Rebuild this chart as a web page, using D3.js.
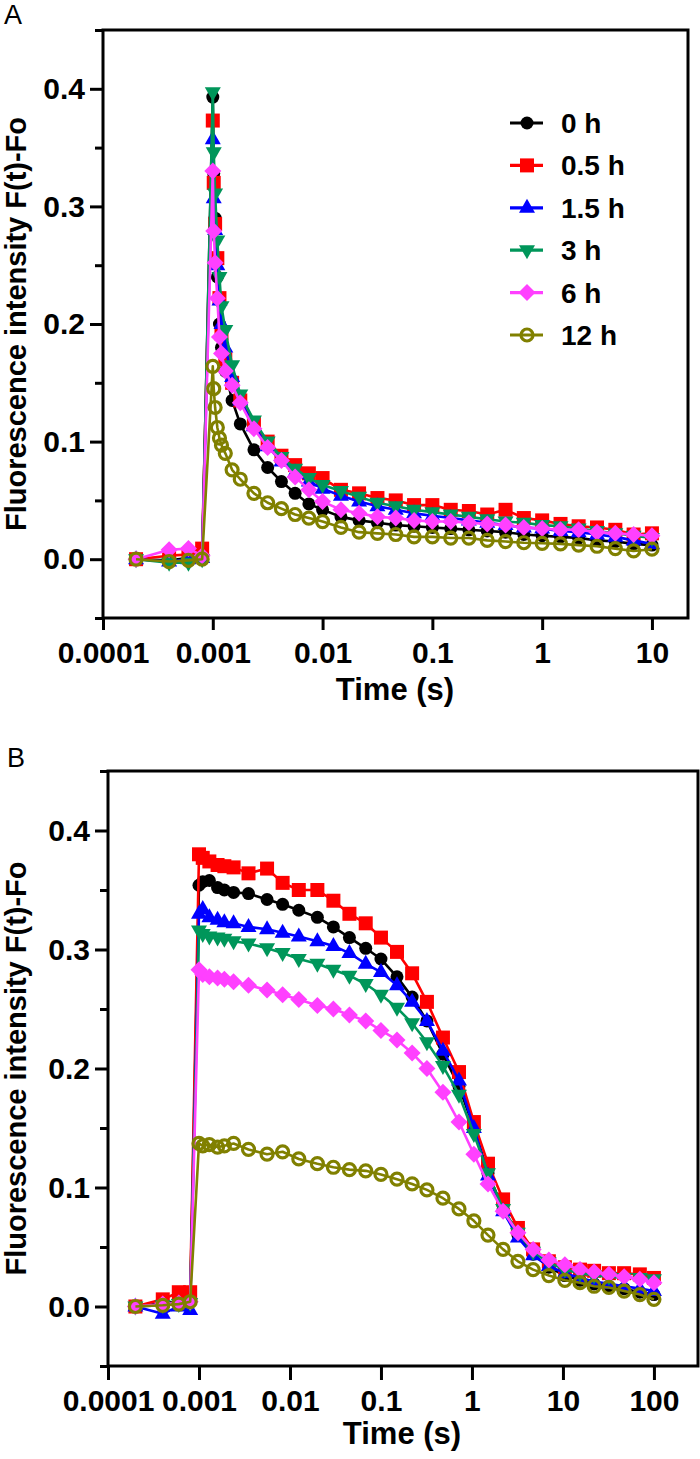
<!DOCTYPE html>
<html><head><meta charset="utf-8">
<script src="https://cdn.jsdelivr.net/npm/d3@7"></script>
<style>
body{margin:0;background:#fff}
svg{display:block}
text{font-family:"Liberation Sans",Arial,Helvetica,sans-serif}
</style>
</head><body>
<svg id="chart" width="700" height="1459"></svg>
<script>
// ---------- data ----------
const seriesNames  = ["0 h","0.5 h","1.5 h","3 h","6 h","12 h"];
const seriesColors = ["#000000","#ff0000","#0000ff","#00965a","#ff40ff","#808000"];
const seriesShapes = ["circle","square","triangleUp","triangleDown","diamond","openCircle"];

const xTickValuesA = [0.0001,0.001,0.01,0.1,1,10];
const xTickLabelsA = ["0.0001","0.001","0.01","0.1","1","10"];
const xTickValuesB = [0.0001,0.001,0.01,0.1,1,10,100];
const xTickLabelsB = ["0.0001","0.001","0.01","0.1","1","10","100"];
const yTickValues  = [0,0.1,0.2,0.3,0.4];
const yTickLabels  = ["0.0","0.1","0.2","0.3","0.4"];
const yMinorTicks  = [-0.05,0.05,0.15,0.25,0.35,0.45];

const timeA = [0.0002,0.0004,0.0006,0.0008,0.001,0.00102,0.00105,0.0011,0.00115,0.0012,0.0013,0.0015,
  0.00178,0.00237,0.00316,0.00422,0.00562,0.0075,0.01,0.0147,0.0215,0.0316,0.0464,0.0681,
  0.1,0.147,0.215,0.316,0.464,0.681,1,1.47,2.15,3.16,4.64,6.81,10];
const a0h  = [0,-0.001,0.001,0.002,0.393,0.328,0.29,0.24,0.20,0.18,0.16,0.135,
  0.115,0.093,0.078,0.066,0.056,0.047,0.042,0.036,0.033,0.031,0.029,0.028,
  0.027,0.026,0.025,0.024,0.023,0.021,0.020,0.019,0.018,0.016,0.015,0.013,0.012];
const a05h = [0,0.003,0.004,0.009,0.373,0.320,0.285,0.256,0.222,0.192,0.170,0.150,
  0.135,0.115,0.100,0.088,0.080,0.073,0.069,0.059,0.056,0.052,0.050,0.046,
  0.046,0.042,0.041,0.038,0.042,0.035,0.033,0.030,0.028,0.027,0.025,0.021,0.022];
const a15h = [0,-0.002,0,0.001,0.357,0.307,0.280,0.250,0.220,0.200,0.180,0.155,
  0.135,0.113,0.096,0.083,0.074,0.066,0.060,0.054,0.049,0.045,0.042,0.039,
  0.037,0.035,0.033,0.031,0.029,0.027,0.026,0.024,0.023,0.021,0.019,0.016,0.013];
const a3h  = [0,-0.003,-0.003,0,0.397,0.346,0.311,0.271,0.240,0.215,0.195,0.165,
  0.140,0.118,0.100,0.087,0.077,0.069,0.063,0.058,0.053,0.048,0.045,0.042,
  0.040,0.038,0.036,0.034,0.032,0.031,0.029,0.028,0.026,0.024,0.022,0.020,0.018];
const a6h  = [0,0.008,0.009,0.003,0.330,0.279,0.252,0.222,0.189,0.175,0.160,0.148,
  0.133,0.111,0.095,0.084,0.070,0.059,0.049,0.042,0.039,0.036,0.035,0.033,
  0.032,0.032,0.031,0.030,0.029,0.027,0.026,0.025,0.025,0.023,0.022,0.021,0.020];
const a12h = [0,-0.002,-0.001,0,0.164,0.145,0.129,0.112,0.103,0.097,0.090,0.076,
  0.068,0.056,0.048,0.043,0.038,0.035,0.032,0.027,0.023,0.022,0.021,0.019,
  0.019,0.018,0.018,0.016,0.015,0.014,0.0135,0.013,0.012,0.011,0.009,0.007,0.0085];

const timeB = [0.0002,0.0004,0.0006,0.0008,0.001,0.0011,0.0013,0.0016,0.0019,0.0024,
  0.0035,0.0056,0.0083,0.0125,0.02,0.03,0.045,0.068,0.1,0.15,0.22,0.32,0.48,0.72,
  1.05,1.5,2.2,3.2,4.7,7,10.5,15.4,22,32,47,70,100];
const b0h  = [0,0.003,0.004,0.005,0.354,0.357,0.358,0.352,0.350,0.348,
  0.347,0.342,0.338,0.333,0.327,0.319,0.310,0.301,0.292,0.277,0.260,0.240,0.212,0.185,
  0.150,0.112,0.082,0.060,0.044,0.033,0.026,0.022,0.019,0.017,0.015,0.012,0.010];
const b05h = [0,0.006,0.012,0.012,0.380,0.377,0.374,0.371,0.370,0.369,
  0.364,0.368,0.356,0.350,0.350,0.341,0.330,0.322,0.310,0.298,0.280,0.256,0.226,0.197,
  0.155,0.120,0.090,0.066,0.048,0.038,0.033,0.031,0.030,0.028,0.028,0.027,0.024];
const b15h = [0,-0.006,0.000,-0.003,0.330,0.334,0.327,0.325,0.323,0.322,
  0.319,0.317,0.314,0.311,0.307,0.303,0.297,0.288,0.281,0.270,0.256,0.240,0.215,0.190,
  0.150,0.110,0.080,0.058,0.043,0.034,0.028,0.024,0.021,0.019,0.017,0.015,0.013];
const b3h  = [0,0.001,0.002,0.003,0.316,0.313,0.311,0.310,0.309,0.307,
  0.305,0.301,0.297,0.292,0.288,0.283,0.278,0.271,0.262,0.251,0.238,0.222,0.202,0.178,
  0.145,0.112,0.082,0.062,0.046,0.037,0.031,0.028,0.026,0.025,0.024,0.024,0.023];
const b6h  = [0,0.002,0.003,0.004,0.283,0.279,0.277,0.276,0.275,0.273,
  0.270,0.266,0.262,0.258,0.253,0.250,0.245,0.240,0.232,0.224,0.213,0.200,0.180,0.155,
  0.128,0.103,0.080,0.062,0.048,0.039,0.035,0.031,0.029,0.027,0.025,0.023,0.020];
const b12h = [0,0.001,0.002,0.004,0.137,0.135,0.136,0.134,0.135,0.137,
  0.132,0.128,0.130,0.124,0.120,0.117,0.115,0.114,0.111,0.107,0.103,0.098,0.091,0.082,
  0.072,0.060,0.048,0.038,0.031,0.026,0.022,0.020,0.017,0.016,0.013,0.010,0.006];

// ---------- drawing ----------
const svg = d3.select("#chart");
const FONT_W = "bold";

function markerPath(shape){
  switch(shape){
    case "circle": return d3.symbol(d3.symbolCircle, Math.PI*6.5*6.5)();
    case "openCircle": return d3.symbol(d3.symbolCircle, Math.PI*6*6)();
    case "square": return "M-7,-7H7V7H-7Z";
    case "triangleUp": return "M0,-9L8,5L-8,5Z";
    case "triangleDown": return "M0,9L8,-5L-8,-5Z";
    case "diamond": return "M0,-8.5L8.5,0L0,8.5L-8.5,0Z";
  }
}
function styleMarker(sel, i){
  const open = seriesShapes[i] === "openCircle";
  sel.attr("d", markerPath(seriesShapes[i]))
     .attr("fill", open ? "none" : seriesColors[i])
     .attr("stroke", open ? seriesColors[i] : "none")
     .attr("stroke-width", open ? 3.2 : 0);
}

function drawPanel(cfg){
  const x = d3.scaleLog().domain(cfg.xDomain).range([cfg.left, cfg.right]);
  const y = d3.scaleLinear().domain([-0.05, 0.45]).range([cfg.bottom, cfg.top]);
  const g = svg.append("g");

  // series
  const line = d3.line().x(d => x(d[0])).y(d => y(d[1]));
  cfg.series.forEach((vals, i) => {
    const pts = cfg.time.map((t, k) => [t, vals[k]]);
    g.append("path").datum(pts).attr("d", line)
      .attr("fill","none").attr("stroke", seriesColors[i])
      .attr("stroke-width", 2.6).attr("stroke-linejoin","round");
    g.selectAll(null).data(pts).enter().append("path")
      .attr("transform", d => `translate(${x(d[0])},${y(d[1])})`)
      .call(styleMarker, i);
  });

  // frame
  g.append("rect").attr("x", cfg.left).attr("y", cfg.top)
    .attr("width", cfg.right - cfg.left).attr("height", cfg.bottom - cfg.top)
    .attr("fill","none").attr("stroke","#000").attr("stroke-width",3);

  // y axis major
  const yAx = g.append("g").attr("transform", `translate(${cfg.left},0)`)
    .call(d3.axisLeft(y).tickValues(yTickValues).tickSize(13).tickPadding(5)
      .tickFormat((d,i) => yTickLabels[i]));
  // y axis minor
  const yMin = g.append("g").attr("transform", `translate(${cfg.left},0)`)
    .call(d3.axisLeft(y).tickValues(yMinorTicks).tickSize(8).tickFormat(""));
  // x axis
  const xAx = g.append("g").attr("transform", `translate(0,${cfg.bottom})`)
    .call(d3.axisBottom(x).tickValues(cfg.xTicks).tickSize(cfg.xTickSize).tickPadding(cfg.xPad)
      .tickFormat((d,i) => cfg.xLabels[i]));
  [yAx, yMin, xAx].forEach(a => {
    a.select(".domain").remove();
    a.selectAll(".tick line").attr("stroke","#000").attr("stroke-width",3);
    a.selectAll(".tick text").attr("fill","#000")
      .style("font-size","30px").style("font-weight", FONT_W);
  });

  // axis titles
  g.append("text").attr("transform", `translate(26,${(cfg.top + cfg.bottom)/2}) rotate(-90)`)
    .attr("text-anchor","middle").style("font-size","29px").style("font-weight",FONT_W)
    .text("Fluorescence intensity F(t)-Fo");
  g.append("text").attr("x", cfg.titleX).attr("y", cfg.titleY)
    .attr("text-anchor","middle").style("font-size","31px").style("font-weight",FONT_W)
    .text("Time (s)");
  g.append("text").attr("x", cfg.labelX).attr("y", cfg.labelY)
    .style("font-size","27px").text(cfg.label);

  return {x, y, g};
}

const pA = drawPanel({
  left:103, right:688, top:30, bottom:618, xDomain:[1e-4, 21.3],
  xTicks:xTickValuesA, xLabels:xTickLabelsA, xTickSize:12, xPad:12,
  time:timeA, series:[a0h,a05h,a15h,a3h,a6h,a12h],
  titleX:395, titleY:700, label:"A", labelX:4, labelY:24
});
const pB = drawPanel({
  left:108, right:698, top:771, bottom:1366, xDomain:[1e-4, 305],
  xTicks:xTickValuesB, xLabels:xTickLabelsB, xTickSize:14, xPad:10,
  time:timeB, series:[b0h,b05h,b15h,b3h,b6h,b12h],
  titleX:402, titleY:1444, label:"B", labelX:7, labelY:767
});

// legend (panel A)
const legendY0 = 123, legendStep = 42.4;
const leg = svg.append("g");
seriesNames.forEach((name, i) => {
  const cy = legendY0 + i*legendStep;
  leg.append("line").attr("x1",510).attr("x2",543).attr("y1",cy).attr("y2",cy)
    .attr("stroke", seriesColors[i]).attr("stroke-width",3.2);
  leg.append("path").attr("transform", `translate(527,${cy})`).call(styleMarker, i);
  leg.append("text").attr("x",561).attr("y",cy).attr("dy","0.36em")
    .style("font-size","28px").style("font-weight",FONT_W).text(name);
});
</script>
</body></html>
